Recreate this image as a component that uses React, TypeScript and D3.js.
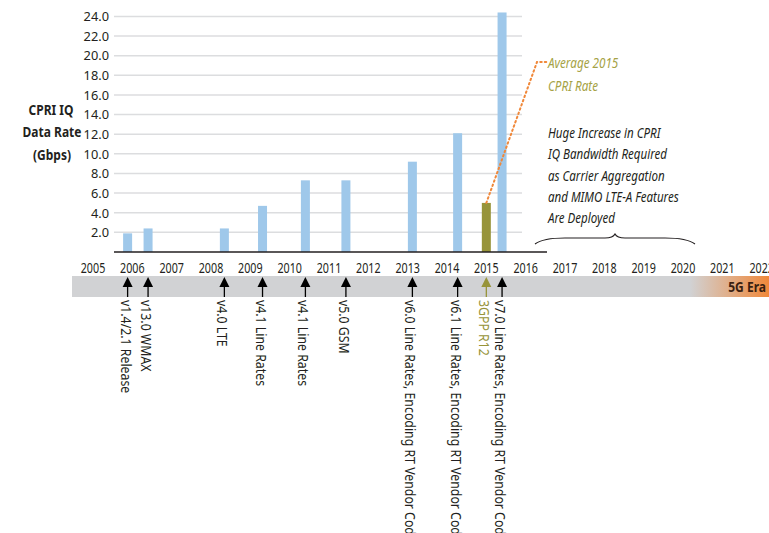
import React from 'react';
import * as d3 from 'd3';

const W = 769;
const H = 533;

// y axis ticks and year axis labels
const yTicks = [2, 4, 6, 8, 10, 12, 14, 16, 18, 20, 22, 24];
const years = [2005, 2006, 2007, 2008, 2009, 2010, 2011, 2012, 2013, 2014, 2015, 2016, 2017, 2018, 2019, 2020, 2021, 2022];

// CPRI releases: position on the timeline, rate (Gbps), label
const releasePos = [2005.88, 2006.4, 2008.34, 2009.31, 2010.4, 2011.43, 2013.12, 2014.27, 2015.0, 2015.4];
const releaseRate = [1.9, 2.4, 2.4, 4.7, 7.3, 7.3, 9.2, 12.1, 5.0, 24.4];
const releaseLabel = [
  'v1.4/2.1 Release',
  'v13.0 WMAX',
  'v4.0 LTE',
  'v4.1 Line Rates',
  'v4.1 Line Rates',
  'v5.0 GSM',
  'v6.0 Line Rates, Encoding RT Vendor Codes',
  'v6.1 Line Rates, Encoding RT Vendor Codes',
  '3GPP R12',
  'v7.0 Line Rates, Encoding RT Vendor Codes',
];
const isAverage = [false, false, false, false, false, false, false, false, true, false];

const noteLines = [
  'Huge Increase in CPRI',
  'IQ Bandwidth Required',
  'as Carrier Aggregation',
  'and MIMO LTE-A Features',
  'Are Deployed',
];

const FONT = '"Noto Sans", "Open Sans", sans-serif';
const DARK = '#231f20';
const BLUE = '#9fc8ea';
const OLIVE = '#97943a';
const ORANGE = '#f0883a';

// no condensed font available, so squeeze text horizontally
function T({ x, y, sx = 0.78, rot = 0, children, ...rest }: any) {
  return (
    <text transform={`translate(${x},${y}) rotate(${rot}) scale(${sx},1)`} {...rest}>
      {children}
    </text>
  );
}

export default function App() {
  const x = d3.scaleLinear().domain([2005, 2020]).range([93, 683]);
  const y = d3.scaleLinear().domain([0, 24]).range([252, 16.4]);
  const barW = 9;
  const gridX0 = 114;
  const gridX1 = 522;
  const bandTop = 276;
  const bandBottom = 297;

  const avgIdx = isAverage.indexOf(true);
  const avgX = x(releasePos[avgIdx]);
  const avgY = y(releaseRate[avgIdx]);
  const leader = d3.line()([
    [avgX, avgY],
    [537, 62],
    [547, 62],
  ]);

  // curly brace above the future years
  const bx0 = 535;
  const bx1 = 695;
  const bm = (bx0 + bx1) / 2;
  const bTop = 237;
  const bBot = 244;
  const brace = `M${bx0},${bBot} Q${bx0 + 8},${bTop + 1} ${bx0 + 30},${bTop + 1} L${bm - 10},${bTop + 1} Q${bm - 2},${bTop + 1} ${bm},${bTop - 3} Q${bm + 2},${bTop + 1} ${bm + 10},${bTop + 1} L${bx1 - 30},${bTop + 1} Q${bx1 - 8},${bTop + 1} ${bx1},${bBot}`;

  return (
    <svg width={W} height={H} style={{ position: 'absolute', left: 0, top: 0, background: '#fff' }} fontFamily={FONT}>
      <defs>
        <linearGradient id="era" x1="0" x2="1" y1="0" y2="0">
          <stop offset="0" stopColor="#d1d2d4" />
          <stop offset="1" stopColor={ORANGE} />
        </linearGradient>
      </defs>

      {/* gridlines */}
      {yTicks.map((t) => (
        <line key={t} x1={gridX0} x2={gridX1} y1={y(t)} y2={y(t)} stroke="#dcdddf" strokeWidth={1.5} />
      ))}
      {yTicks.map((t) => (
        <T key={'l' + t} x={109} y={y(t) + 4.8} sx={0.95} textAnchor="end" fontSize={13.5} fill={DARK}>
          {t.toFixed(1)}
        </T>
      ))}

      {/* axis title */}
      <g fontWeight="bold" fontSize={15} fill={DARK} textAnchor="middle">
        <T x={51} y={115} sx={0.8}>CPRI IQ</T>
        <T x={52} y={137} sx={0.8}>Data Rate</T>
        <T x={52} y={160} sx={0.8}>(Gbps)</T>
      </g>

      {/* bars */}
      {releasePos.map((p, i) => (
        <rect
          key={'b' + i}
          x={x(p) - barW / 2}
          y={y(releaseRate[i])}
          width={barW}
          height={y(0) - y(releaseRate[i])}
          fill={isAverage[i] ? OLIVE : BLUE}
        />
      ))}

      <line x1={gridX0} x2={547} y1={y(0)} y2={y(0)} stroke={DARK} strokeWidth={1.5} />

      {/* year labels */}
      {years.map((yr) => (
        <T key={yr} x={x(yr)} y={273} sx={0.74} textAnchor="middle" fontSize={14.5} fill={DARK}>
          {yr}
        </T>
      ))}

      {/* timeline band */}
      <rect x={72} y={bandTop} width={620} height={bandBottom - bandTop} fill="#d1d2d4" />
      <rect x={690} y={bandTop} width={W - 690} height={bandBottom - bandTop} fill="url(#era)" />
      <T x={766} y={291.5} sx={0.86} textAnchor="end" fontWeight="bold" fontSize={14} fill="#3a1e10">
        5G Era
      </T>

      {/* release arrows and labels */}
      {releasePos.map((p, i) => {
        const cx = x(p);
        const c = isAverage[i] ? OLIVE : '#000';
        return (
          <g key={'a' + i}>
            <path d={`M${cx},${bandTop + 1} L${cx - 5},${bandTop + 11} L${cx + 5},${bandTop + 11} Z`} fill={c} />
            <line x1={cx} x2={cx} y1={bandTop + 10} y2={bandBottom} stroke={c} strokeWidth={1.3} />
            <T
              x={cx - 2}
              y={bandBottom + 3}
              rot={90}
              sx={0.88}
              dy="0.35em"
              fontSize={14}
              fill={isAverage[i] ? OLIVE : DARK}
            >
              {releaseLabel[i]}
            </T>
          </g>
        );
      })}

      {/* average annotation */}
      <path d={leader ?? ''} fill="none" stroke={ORANGE} strokeWidth={2} strokeDasharray="1.5 3" strokeLinecap="round" />
      <g fontStyle="italic" fontSize={15} fill="#a5a245">
        <T x={548} y={68} sx={0.78}>Average 2015</T>
        <T x={548} y={91} sx={0.78}>CPRI Rate</T>
      </g>

      <g fontStyle="italic" fontSize={15} fill={DARK}>
        {noteLines.map((l, i) => (
          <T key={i} x={548} y={138 + i * 21.3} sx={0.77}>
            {l}
          </T>
        ))}
      </g>

      <path d={brace} fill="none" stroke={DARK} strokeWidth={1.1} />
    </svg>
  );
}
